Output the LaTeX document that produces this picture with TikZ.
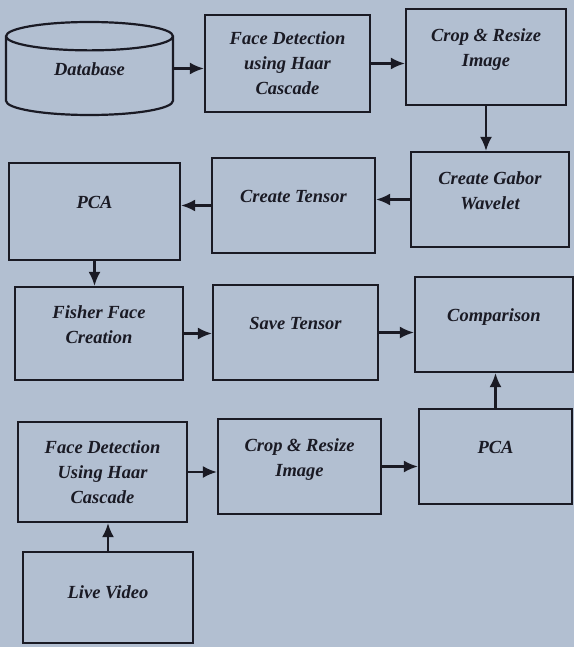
\documentclass[tikz,border=0pt]{standalone}
\usepackage{fontspec}
\setmainfont{Liberation Serif}
\usepackage{xcolor}
\usetikzlibrary{arrows.meta, shapes.geometric}
\definecolor{paperblue}{RGB}{178,191,209}
\definecolor{inkdark}{RGB}{26,26,36}

\begin{document}
\begin{tikzpicture}[x=1pt, y=-1pt,
        every node/.style={font=\fontsize{18.5}{25}\selectfont\bfseries\itshape, text=inkdark},
        stagebox/.style={rectangle, draw=inkdark, line width=2.2pt, align=center, inner sep=0pt},
        lifted/.style={text depth=18pt},
        flow/.style={draw=inkdark, line width=2.2pt, -{Latex[length=14pt,width=12pt]}}]
            \useasboundingbox[fill=paperblue] (0,0) rectangle (574,647);
            \node[cylinder, shape border rotate=90, shape aspect=0.4, draw=inkdark, line width=2.2pt,
                minimum width=167pt, minimum height=93pt, inner sep=0pt, text depth=14pt,
                anchor=shape center] (db) at (89.5,68.5) {Database};
            \node[stagebox, minimum width=165pt, minimum height=97pt] (facedet) at (287.5,63.5) {Face Detection\\using Haar\\Cascade};
            \node[stagebox, lifted, minimum width=160pt, minimum height=96pt] (crop) at (486,57) {Crop \& Resize\\Image};
            \node[stagebox, lifted, minimum width=158pt, minimum height=95pt] (gabor) at (490,199.5) {Create Gabor\\Wavelet};
            \node[stagebox, lifted, minimum width=163pt, minimum height=95pt] (tensor) at (293.5,205.5) {Create Tensor};
            \node[stagebox, lifted, minimum width=171pt, minimum height=97pt] (pca) at (94.5,211.5) {PCA};
            \node[stagebox, lifted, minimum width=168pt, minimum height=93pt] (fisher) at (99,333.5) {Fisher Face\\Creation};
            \node[stagebox, lifted, minimum width=165pt, minimum height=95pt] (save) at (295.5,332.5) {Save Tensor};
            \node[stagebox, lifted, minimum width=158pt, minimum height=95pt] (compare) at (494,324.5) {Comparison};
            \node[stagebox, minimum width=169pt, minimum height=100pt] (facedetlive) at (102.5,472) {Face Detection\\Using Haar\\Cascade};
            \node[stagebox, lifted, minimum width=163pt, minimum height=95pt] (croplive) at (299.5,466.5) {Crop \& Resize\\Image};
            \node[stagebox, lifted, minimum width=153pt, minimum height=95pt] (pcalive) at (495.5,456.5) {PCA};
            \node[stagebox, minimum width=170pt, minimum height=91pt, text depth=10pt] (live) at (108,597.5) {Live Video};
            \draw[flow] (db.shape center -| db.east) -- (db.shape center -| facedet.west);
            \draw[flow] (facedet.east) -- (facedet.east -| crop.west);
            \draw[flow] (crop.south) -- (crop.south |- gabor.north);
            \draw[flow] (gabor.west) -- (gabor.west -| tensor.east);
            \draw[flow] (tensor.west) -- (tensor.west -| pca.east);
            \draw[flow] (pca.south) -- (pca.south |- fisher.north);
            \draw[flow] (fisher.east) -- (fisher.east -| save.west);
            \draw[flow] (save.east) -- (save.east -| compare.west);
            \draw[flow] (pcalive.north) -- (pcalive.north |- compare.south);
            \draw[flow] (facedetlive.east) -- (facedetlive.east -| croplive.west);
            \draw[flow] (croplive.east) -- (croplive.east -| pcalive.west);
            \draw[flow] (live.north) -- (live.north |- facedetlive.south);
        \end{tikzpicture}
\end{document}
